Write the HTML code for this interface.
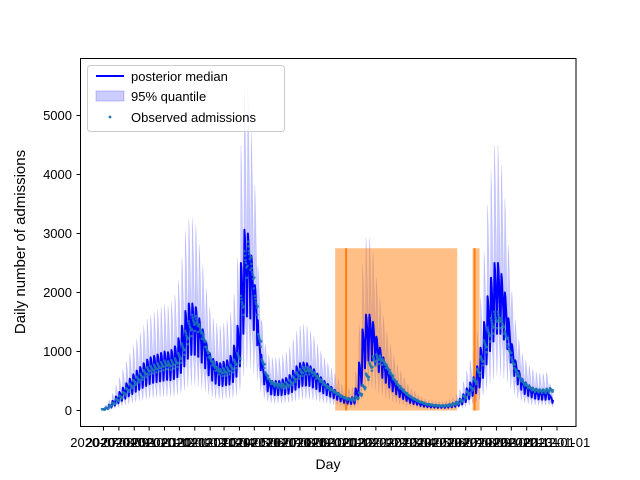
<!DOCTYPE html>
<html><head><meta charset="utf-8"><style>
body{margin:0;background:#fff}
svg{display:block;font-family:"Liberation Sans","DejaVu Sans",sans-serif}
</style></head><body>
<svg id="chart" width="640" height="480" viewBox="0 0 640 480">
<rect x="0" y="0" width="640" height="480" fill="#fff"/>
<g id="plot"></g>
<rect x="80.5" y="58.5" width="495.5" height="368" fill="none" stroke="#000" stroke-width="1"/>
<g id="axes"></g>
<text x="328" y="469" text-anchor="middle" font-size="14">Day</text>
<text transform="translate(25,242) rotate(-90)" text-anchor="middle" font-size="15">Daily number of admissions</text>
<g>
<rect x="87.5" y="65.5" width="197" height="66" rx="3" fill="#fff" fill-opacity="0.8" stroke="#ccc"/>
<line x1="96" y1="76" x2="124" y2="76" stroke="#0000ff" stroke-width="2"/>
<text x="131" y="81" font-size="13">posterior median</text>
<rect x="96" y="91" width="28" height="10" fill="#0000ff" fill-opacity="0.2" stroke="#0000ff" stroke-opacity="0.2"/>
<text x="131" y="101" font-size="13">95% quantile</text>
<circle cx="110" cy="117" r="1.4" fill="#1f77b4"/>
<text x="131" y="122" font-size="13">Observed admissions</text>
</g>
</svg>
<script>
const obsWeekly=[20,40,80,120,180,230,290,350,420,480,
530,580,630,680,700,720,740,760,780,770,
790,820,900,1050,1250,1400,1500,1480,1350,1200,
1000,850,750,680,650,660,680,720,800,900,
1800,2500,2650,2300,1800,1200,800,600,500,450,
430,420,420,440,480,540,600,650,680,680,
650,600,540,480,420,380,340,300,260,230,
200,190,190,220,280,400,580,750,850,880,
860,800,700,600,500,420,360,300,250,210,
180,150,130,110,100,90,85,80,80,85,
95,110,130,170,230,300,380,500,650,850,
1100,1300,1450,1550,1550,1450,1250,1000,800,650,
550,470,420,380,350,340,330,330,340,350];
const medWeekly=[20,40,80,130,190,250,310,370,430,490,
540,590,640,690,720,740,760,780,800,790,
820,870,980,1150,1350,1450,1450,1400,1250,1100,
920,780,700,660,640,660,680,740,880,1150,
2000,2450,2400,2100,1700,1050,680,500,420,400,
400,400,420,440,480,540,600,640,650,640,
600,560,500,450,400,360,320,280,240,200,
180,170,180,300,650,1100,1300,1300,1200,1000,
850,720,600,500,420,350,300,250,200,170,
150,120,100,90,80,75,70,70,70,75,
85,100,120,160,220,300,380,450,600,850,
1200,1550,1800,2000,2000,1850,1600,1250,900,680,
540,430,380,340,310,290,280,280,290,200];
const medDow=[1.25,1.2,1.1,1.0,0.9,0.65,0.9];
const obsDow=[1.08,1.05,1.02,1.0,0.97,0.9,0.98];
const upperRatio=[1.8,1.75,1.7,1.6,1.5,1.4,1.6];
const lowerRatio=[0.6,0.58,0.56,0.55,0.52,0.45,0.5];
const periods=[[470,716],[747,761]];
const periodLines=[492,751];
const periodHeight=2750;
const yTicks=[0,1000,2000,3000,4000,5000];
const startDate=new Date(Date.UTC(2020,5,28));

const NS="http://www.w3.org/2000/svg";
const nDays=obsWeekly.length*7;
const X0=102,X1=553,Y0=410.5,PX=59/1000;
const xs=d=>X0+d*(X1-X0)/(nDays-1);
const ys=v=>Y0-v*PX;
const plot=document.getElementById('plot'),axes=document.getElementById('axes');
function mk(tag,attrs,parent){const e=document.createElementNS(NS,tag);for(const k in attrs)e.setAttribute(k,attrs[k]);parent.appendChild(e);return e;}
const med=[],obs=[],up=[],lo=[];
for(let d=0;d<nDays;d++){const w=Math.floor(d/7),k=d%7;
 med.push(medWeekly[w]*medDow[k]);obs.push(obsWeekly[w]*obsDow[k]);
 up.push(med[d]*upperRatio[k]);lo.push(med[d]*lowerRatio[k]);}
let p='';for(let d=0;d<nDays;d++)p+=(d?'L':'M')+xs(d).toFixed(2)+','+ys(up[d]).toFixed(2);
for(let d=nDays-1;d>=0;d--)p+='L'+xs(d).toFixed(2)+','+ys(lo[d]).toFixed(2);
const band=mk('path',{d:p+'Z',fill:'#0000ff','fill-opacity':0.2,stroke:'#0000ff','stroke-opacity':0.15,'stroke-width':0.6},plot);


periods.forEach((r,i)=>{const e=mk('rect',{x:xs(r[0]),y:ys(periodHeight),width:xs(r[1])-xs(r[0]),height:ys(0)-ys(periodHeight),fill:'#ff7f0e','fill-opacity':0.5},plot);
 
 });
periodLines.forEach((d,i)=>{const e=mk('line',{x1:xs(d),x2:xs(d),y1:ys(periodHeight),y2:ys(0),stroke:'#ff7f0e','stroke-width':2},plot);
 
 });
let m='';for(let d=0;d<nDays;d++)m+=(d?'L':'M')+xs(d).toFixed(2)+','+ys(med[d]).toFixed(2);
const ml=mk('path',{d:m,fill:'none',stroke:'#0000ff','stroke-width':2,'stroke-linejoin':'round'},plot);


const g=mk('g',{fill:'#1f77b4','fill-opacity':0.85},plot);


for(let d=0;d<nDays;d++){const c=mk('circle',{cx:xs(d).toFixed(2),cy:ys(obs[d]).toFixed(2),r:1.3},g);
 
 }
yTicks.forEach(v=>{const t=mk('line',{x1:76.5,x2:80.5,y1:ys(v),y2:ys(v),stroke:'#000'},axes);
 
 
 const l=mk('text',{x:72,y:ys(v)+4.5,'text-anchor':'end','font-size':13},axes);l.textContent=v;
 
 });
for(let k=0;k<31;k++){const dt=new Date(Date.UTC(2020,6+k,1));const d=(dt-startDate)/86400000;
 const x=xs(d);
 const t=mk('line',{x1:x,x2:x,y1:426.5,y2:430.5,stroke:'#000'},axes);
 
 
 const l=mk('text',{x:x,y:447,'text-anchor':'middle','font-size':13},axes);
 l.textContent=dt.toISOString().slice(0,10);
 
 }
</script>
</body></html>
